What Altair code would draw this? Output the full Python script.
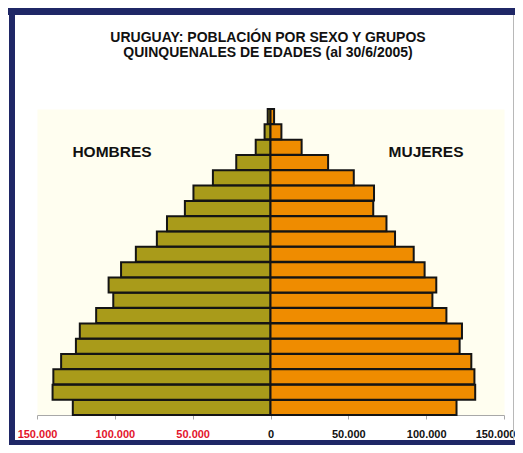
import altair as alt
import pandas as pd

ages = ["0-4", "5-9", "10-14", "15-19", "20-24", "25-29", "30-34", "35-39", "40-44",
        "45-49", "50-54", "55-59", "60-64", "65-69", "70-74", "75-79", "80-84",
        "85-89", "90-94", "95+"]
hombres = [127000, 140000, 139500, 134500, 125000, 122500, 112000, 101000, 104000,
           96000, 86500, 73000, 66500, 55000, 49500, 37000, 22000, 9500, 3800, 1800]
mujeres = [119500, 131500, 131000, 129000, 121500, 123000, 113000, 104000, 106500,
           99000, 92000, 80000, 74500, 66000, 66500, 53500, 37000, 20000, 7000, 2300]
tick_values = [-150000, -100000, -50000, 0, 50000, 100000, 150000]
title_lines = ["URUGUAY: POBLACIÓN POR SEXO Y GRUPOS",
               "QUINQUENALES DE EDADES (al 30/6/2005)"]

rows = []
for a, h, m in zip(ages, hombres, mujeres):
    rows.append({"edad": a, "sexo": "Hombres", "valor": -h})
    rows.append({"edad": a, "sexo": "Mujeres", "valor": m})
df = pd.DataFrame(rows)

FONT = "Liberation Sans"
NAVY = "#1F2766"

bars = alt.Chart(df).mark_bar(stroke="#141414", strokeWidth=2).encode(
    x=alt.X("valor:Q",
            scale=alt.Scale(domain=[-150000, 150000], nice=False),
            axis=alt.Axis(values=tick_values, title=None, grid=False, labelFlush=False,
                          domainColor="#A8A8A8", tickColor="#A8A8A8", tickSize=4,
                          labelPadding=9, labelFont=FONT, labelFontSize=11,
                          labelFontWeight="bold",
                          labelExpr="replace(format(abs(datum.value), ','), regexp(',', 'g'), '.')",
                          labelColor=alt.condition("datum.value < 0", alt.value("#E3142B"), alt.value("#111111")),
                          labelOffset=alt.condition("datum.value >= 150000", alt.value(-9), alt.value(0)))),
    y=alt.Y("edad:N", sort=list(reversed(ages)), axis=None,
            scale=alt.Scale(paddingInner=0.02, paddingOuter=0)),
    color=alt.Color("sexo:N", legend=None,
                    scale=alt.Scale(domain=["Hombres", "Mujeres"], range=["#A99B1A", "#EF8C00"])),
)

one = alt.Data(values=[{}])

def txt(s, x, y, size):
    return alt.Chart(one).mark_text(font=FONT, fontSize=size, fontWeight="bold",
                                    color="#111111", baseline="alphabetic").encode(
        x=alt.value(x), y=alt.value(y), text=alt.value(s))

title1 = txt(title_lines[0], 231, -67, 14)
title2 = txt(title_lines[1], 231, -52, 14)
lbl_h = txt("HOMBRES", 75, 48, 15.5)
lbl_m = txt("MUJERES", 389, 48, 15.5)

frame_top = alt.Chart(one).mark_rect(color=NAVY).encode(
    x=alt.value(-29), x2=alt.value(478), y=alt.value(-101), y2=alt.value(-94))
frame_left = alt.Chart(one).mark_rect(color=NAVY).encode(
    x=alt.value(-28), x2=alt.value(-22), y=alt.value(-101), y2=alt.value(336))
frame_bottom = alt.Chart(one).mark_rect(color=NAVY).encode(
    x=alt.value(-28), x2=alt.value(478), y=alt.value(331), y2=alt.value(336))
frame_right = alt.Chart(one).mark_rect(color="#B8B8B8").encode(
    x=alt.value(476), x2=alt.value(477), y=alt.value(-94), y2=alt.value(331))

chart = alt.layer(frame_top, frame_left, frame_bottom, frame_right, bars,
                  title1, title2, lbl_h, lbl_m).properties(
    width=467, height=306,
    autosize=alt.AutoSizeParams(type="none"),
    padding={"left": 29, "top": 101, "right": 11, "bottom": 30},
    background="white",
).configure_view(fill="#FFFEF0", stroke="transparent")

chart.save("out.html", embed_options={"renderer": "svg", "actions": False})
